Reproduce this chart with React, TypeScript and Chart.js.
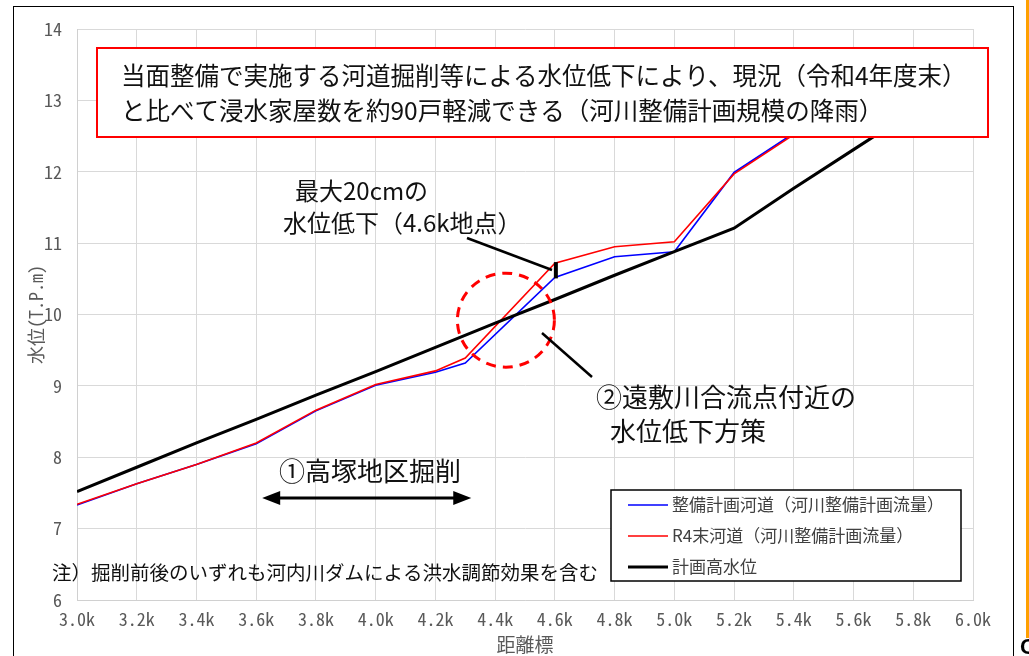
import React, { useEffect, useRef } from 'react';
import { Chart, registerables } from 'chart.js';
Chart.register(...registerables);

// ---- data ----
const xTickValues = [3.0, 3.2, 3.4, 3.6, 3.8, 4.0, 4.2, 4.4, 4.6, 4.8, 5.0, 5.2, 5.4, 5.6, 5.8, 6.0];
const xTickLabels = ['3.0k', '3.2k', '3.4k', '3.6k', '3.8k', '4.0k', '4.2k', '4.4k', '4.6k', '4.8k', '5.0k', '5.2k', '5.4k', '5.6k', '5.8k', '6.0k'];
const yTickValues = [6, 7, 8, 9, 10, 11, 12, 13, 14];

const channelX = [3.0, 3.2, 3.4, 3.6, 3.8, 4.0, 4.2, 4.3, 4.6, 4.8, 5.0, 5.2, 5.4, 5.6, 5.8, 6.0];
const planChannel = [7.33, 7.63, 7.9, 8.19, 8.65, 9.01, 9.19, 9.32, 10.52, 10.81, 10.88, 11.99, 12.54, 13.0, 13.3, 13.5];
const r4Channel = [7.34, 7.63, 7.9, 8.2, 8.66, 9.02, 9.21, 9.39, 10.72, 10.95, 11.02, 11.97, 12.52, 13.0, 13.3, 13.5];

const hwlX = [3.0, 3.2, 3.4, 3.6, 3.8, 4.0, 4.2, 4.4, 4.6, 4.8, 5.0, 5.2, 5.4, 5.6, 5.8, 6.0];
const hwlValues = [7.52, 7.86, 8.2, 8.53, 8.87, 9.2, 9.54, 9.88, 10.21, 10.55, 10.88, 11.21, 11.77, 12.31, 12.85, 13.38];

const seriesNames = ['整備計画河道（河川整備計画流量）', 'R4末河道（河川整備計画流量）', '計画高水位'];
const seriesColors = ['#0000FF', '#FF0000', '#000000'];

const boxLines = [
  '当面整備で実施する河道掘削等による水位低下により、現況（令和4年度末）',
  'と比べて浸水家屋数を約90戸軽減できる（河川整備計画規模の降雨）',
];
const dropLines = ['最大20cmの', '水位低下（4.6k地点）'];
const confluenceLines = ['②遠敷川合流点付近の', '水位低下方策'];
const excavationLabel = '①高塚地区掘削';
const noteText = '注）掘削前後のいずれも河内川ダムによる洪水調節効果を含む';
const xTitle = '距離標';
const yTitle = '水位(T.P.m)';

const dropPointX = 4.6;
const circleCenter = [4.436, 9.92];
const arrowRange = [3.62, 4.32];
const arrowLevel = 7.43;

const JP = '"Noto Sans CJK JP", "Noto Sans", sans-serif';
const MONO = '"Noto Sans Mono CJK JP", "Noto Sans CJK JP", "DejaVu Sans Mono", monospace';

const annotationPlugin = {
  id: 'annotations',
  afterDatasetsDraw(chart: any) {
    const { ctx, scales } = chart;
    const x = scales.x;
    const y = scales.y;
    ctx.save();

    // dashed circle
    ctx.strokeStyle = '#FF0000';
    ctx.lineWidth = 3;
    ctx.setLineDash([10, 7]);
    ctx.beginPath();
    ctx.ellipse(x.getPixelForValue(circleCenter[0]), y.getPixelForValue(circleCenter[1]), 48.5, 47, 0, 0, Math.PI * 2);
    ctx.stroke();
    ctx.setLineDash([]);

    // pointer lines
    ctx.strokeStyle = '#000';
    ctx.lineWidth = 2.5;
    ctx.beginPath();
    ctx.moveTo(467, 238);
    ctx.lineTo(552, 270);
    ctx.stroke();
    ctx.beginPath();
    ctx.moveTo(542, 333);
    ctx.lineTo(592, 377);
    ctx.stroke();

    // 20cm bar at 4.6k between the two channel lines
    const idx = channelX.indexOf(dropPointX);
    const bx = x.getPixelForValue(dropPointX) + 1;
    ctx.lineWidth = 4;
    ctx.beginPath();
    ctx.moveTo(bx, y.getPixelForValue(r4Channel[idx]) - 1);
    ctx.lineTo(bx, y.getPixelForValue(planChannel[idx]) + 1);
    ctx.stroke();

    // double arrow
    const ax1 = x.getPixelForValue(arrowRange[0]);
    const ax2 = x.getPixelForValue(arrowRange[1]);
    const ay = y.getPixelForValue(arrowLevel);
    ctx.lineWidth = 3;
    ctx.beginPath();
    ctx.moveTo(ax1 + 10, ay);
    ctx.lineTo(ax2 - 10, ay);
    ctx.stroke();
    ctx.fillStyle = '#000';
    ctx.beginPath();
    ctx.moveTo(ax1, ay);
    ctx.lineTo(ax1 + 18, ay - 7);
    ctx.lineTo(ax1 + 18, ay + 7);
    ctx.closePath();
    ctx.fill();
    ctx.beginPath();
    ctx.moveTo(ax2, ay);
    ctx.lineTo(ax2 - 18, ay - 7);
    ctx.lineTo(ax2 - 18, ay + 7);
    ctx.closePath();
    ctx.fill();

    // texts
    ctx.fillStyle = '#111';
    ctx.textBaseline = 'middle';
    ctx.textAlign = 'left';
    ctx.font = `24px ${JP}`;
    ctx.fillText(dropLines[0], 295, 191);
    ctx.fillText(dropLines[1], 283, 223);
    ctx.font = `26px ${JP}`;
    ctx.fillText(confluenceLines[0], 596, 397);
    ctx.fillText(confluenceLines[1], 610, 431);
    ctx.fillText(excavationLabel, 279, 471);
    ctx.font = `19.5px ${JP}`;
    ctx.fillText(noteText, 52, 573);

    // red box
    ctx.fillStyle = '#fff';
    ctx.fillRect(97, 48, 891, 89);
    ctx.strokeStyle = '#FF0000';
    ctx.lineWidth = 2;
    ctx.strokeRect(97, 48, 891, 89);
    ctx.fillStyle = '#111';
    ctx.font = `24.5px ${JP}`;
    ctx.fillText(boxLines[0], 121, 76);
    ctx.fillText(boxLines[1], 121, 111);

    // legend
    ctx.fillStyle = '#fff';
    ctx.fillRect(611, 490, 350, 91);
    ctx.strokeStyle = '#000';
    ctx.lineWidth = 1.5;
    ctx.strokeRect(611, 490, 350, 91);
    const rows = [505, 536, 567];
    ctx.font = `17px ${JP}`;
    chart.data.datasets.forEach((ds: any, i: number) => {
      ctx.strokeStyle = ds.borderColor;
      ctx.lineWidth = ds.borderWidth;
      ctx.beginPath();
      ctx.moveTo(628, rows[i]);
      ctx.lineTo(668, rows[i]);
      ctx.stroke();
      ctx.fillStyle = '#404040';
      ctx.fillText(ds.label, 672, rows[i]);
    });

    ctx.restore();
  },
};

export default function App() {
  const canvasRef = useRef<HTMLCanvasElement | null>(null);

  useEffect(() => {
    if (!canvasRef.current) return;
    const chart = new Chart(canvasRef.current, {
      type: 'line',
      data: {
        datasets: [
          {
            label: seriesNames[0],
            data: channelX.map((v, i) => ({ x: v, y: planChannel[i] })),
            borderColor: seriesColors[0],
            borderWidth: 1.6,
            pointRadius: 0,
            order: 2,
          },
          {
            label: seriesNames[1],
            data: channelX.map((v, i) => ({ x: v, y: r4Channel[i] })),
            borderColor: seriesColors[1],
            borderWidth: 1.6,
            pointRadius: 0,
            order: 1,
          },
          {
            label: seriesNames[2],
            data: hwlX.map((v, i) => ({ x: v, y: hwlValues[i] })),
            borderColor: seriesColors[2],
            borderWidth: 3,
            pointRadius: 0,
            order: 0,
          },
        ],
      },
      options: {
        animation: false,
        responsive: false,
        maintainAspectRatio: false,
        layout: { padding: { left: 0, top: 29, right: 56, bottom: 0 } },
        plugins: { legend: { display: false }, tooltip: { enabled: false } },
        scales: {
          x: {
            type: 'linear',
            min: 3,
            max: 6,
            afterBuildTicks: (scale: any) => {
              scale.ticks = xTickValues.map((v) => ({ value: v }));
            },
            afterFit: (scale: any) => {
              scale.height = 56;
            },
            ticks: {
              callback: (_v: any, i: number) => xTickLabels[i],
              color: '#595959',
              font: { family: MONO, size: 18 },
              padding: 8,
              maxRotation: 0,
              autoSkip: false,
            },
            grid: { color: '#D9D9D9', lineWidth: 1, drawTicks: false },
            border: { color: '#D0D0D0', width: 1 },
            title: {
              display: true,
              text: xTitle,
              color: '#595959',
              font: { family: MONO, size: 19 },
              padding: { top: 0, bottom: 0 },
            },
          },
          y: {
            min: 6,
            max: 14,
            afterBuildTicks: (scale: any) => {
              scale.ticks = yTickValues.map((v) => ({ value: v }));
            },
            afterFit: (scale: any) => {
              scale.width = 77;
            },
            ticks: {
              color: '#595959',
              font: { family: MONO, size: 18 },
              padding: 15,
            },
            grid: { color: '#D9D9D9', lineWidth: 1, drawTicks: false },
            border: { color: '#D0D0D0', width: 1 },
            title: {
              display: true,
              text: yTitle,
              color: '#595959',
              font: { family: MONO, size: 18 },
              padding: { top: 25, bottom: 0 },
            },
          },
        },
      },
      plugins: [annotationPlugin],
    } as any);
    return () => chart.destroy();
  }, []);

  return (
    <div style={{ position: 'fixed', left: 0, top: 0, width: 1029, height: 656, overflow: 'hidden', background: '#fff' }}>
      <canvas ref={canvasRef} width={1029} height={656} style={{ position: 'absolute', left: 0, top: 0, width: 1029, height: 656 }} />
      <div style={{ position: 'absolute', left: 13, top: 6, width: 999, height: 700, border: '1.5px solid #000', pointerEvents: 'none' }} />
      <div style={{ position: 'absolute', left: 1026, top: 0, width: 3, height: 638, background: '#FFA000' }} />
      <span style={{ position: 'absolute', left: 1020, top: 632, fontFamily: 'Liberation Sans, sans-serif', fontWeight: 'bold', fontSize: 22, color: '#000', lineHeight: '30px' }}>C</span>
    </div>
  );
}
